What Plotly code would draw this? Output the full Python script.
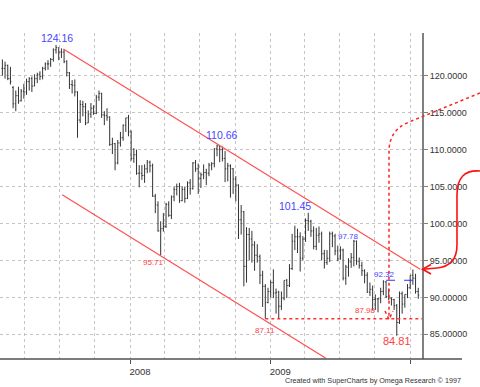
import pandas as pd
import plotly.graph_objects as go

# ---------------- data (weekly bars) ----------------
start_date = "2007-02-02"
open_ = [121.0,121.0,121.4,119.6,118.4,116.2,117.3,116.6,117.9,117.8,119.2,119.6,118.6,119.6,120.2,119.9,121.0,121.6,121.6,122.2,
         123.5,123.8,123.2,123.2,121.9,120.4,118.8,118.7,117.8,114.0,116.1,115.8,113.6,114.8,115.6,114.9,117.1,117.6,114.7,114.6,
         114.4,110.7,110.8,108.2,110.9,111.6,113.3,114.3,112.4,108.8,109.3,106.8,106.8,106.5,107.4,108.3,107.8,103.7,102.5,99.0,
         99.3,99.6,102.6,101.1,103.6,104.6,105.0,103.1,104.6,103.4,105.5,104.7,108.2,107.4,106.1,106.6,106.9,106.8,107.9,108.1,
         110.1,110.5,110.0,108.8,107.4,107.8,107.4,106.0,105.2,100.5,101.6,94.2,98.5,97.9,97.1,95.7,95.5,93.0,91.5,89.3,
         90.8,92.0,90.6,90.7,88.8,89.9,92.3,91.6,93.9,97.6,98.2,98.2,95.3,97.9,100.4,100.3,99.0,96.9,98.4,98.6,
         95.9,94.7,95.3,98.6,98.3,96.3,95.2,96.4,92.6,94.1,94.8,95.4,97.6,94.9,94.3,93.6,93.0,90.7,91.1,89.7,
         89.8,89.8,90.8,92.1,90.1,89.9,89.7,88.9,86.6,90.5,89.1,90.4,91.3,93.0,92.6,90.8]
high = [122.2,121.9,121.5,121.2,118.6,118.0,118.5,118.2,118.9,119.6,119.8,119.9,120.2,120.4,120.6,121.2,121.8,122.1,122.4,123.7,
        124.16,123.8,123.7,123.6,122.1,120.5,119.4,119.5,117.9,116.7,116.6,116.3,115.3,116.3,116.0,117.4,118.0,117.7,115.2,115.6,
        114.5,111.6,110.9,111.3,112.4,113.4,114.3,114.7,112.6,110.2,110.0,107.9,107.9,108.0,108.6,108.5,108.1,104.0,103.0,100.3,
        101.4,102.8,103.0,103.8,105.0,105.4,105.5,105.0,105.0,105.7,106.0,108.3,108.6,108.1,106.9,108.0,107.4,108.2,108.3,110.2,
        110.66,110.5,110.4,109.8,108.2,108.0,107.5,106.4,105.3,102.5,101.7,99.5,99.4,99.0,97.6,97.2,95.8,93.6,91.8,91.3,
        92.3,93.8,91.2,90.9,90.8,92.3,92.5,94.5,98.6,99.7,99.3,98.8,98.3,100.7,101.45,100.5,99.6,99.4,99.6,98.9,
        96.4,96.4,98.9,98.9,98.6,97.0,96.9,96.6,94.4,95.3,96.0,97.78,97.7,95.4,94.8,93.8,93.4,92.0,91.6,90.4,
        89.9,91.3,92.32,92.2,91.2,90.0,89.8,89.1,90.8,90.8,90.4,91.8,93.0,93.77,93.2,91.3]
low = [120.0,119.6,119.4,118.8,115.6,115.2,116.2,116.5,116.9,117.4,118.0,117.8,118.6,119.0,119.4,119.5,120.7,120.8,121.2,121.9,
       123.0,122.1,122.4,121.7,119.9,118.2,117.6,117.2,111.6,113.6,114.5,113.3,113.6,114.3,114.7,114.8,116.6,114.3,113.3,113.9,
       110.5,109.4,107.2,108.0,110.4,111.2,112.4,111.8,108.5,108.2,106.6,104.9,105.9,105.5,106.8,106.9,103.6,101.4,98.9,95.71,
       98.9,99.4,100.9,100.6,103.0,103.8,102.8,103.0,102.8,103.3,103.9,104.6,107.0,104.0,104.8,106.0,105.2,106.4,107.2,107.6,
       109.1,108.3,108.4,105.6,105.7,103.5,104.0,103.0,97.9,98.5,91.5,92.0,95.0,94.7,93.6,94.7,91.8,88.7,87.11,89.2,
       90.0,89.9,87.8,87.11,88.3,89.6,89.9,91.4,93.7,96.4,96.0,93.5,95.0,97.5,99.0,98.2,96.5,96.4,97.4,95.0,
       93.9,94.4,94.8,96.8,95.7,94.9,95.1,92.3,91.7,92.8,94.0,94.2,94.4,93.9,92.9,91.9,90.6,90.2,88.3,88.3,
       87.98,89.2,90.3,89.9,89.6,88.9,88.3,84.81,86.4,87.8,88.6,89.9,91.1,91.7,90.5,89.8]
close = [121.0,121.4,119.6,119.2,116.2,117.3,116.6,117.9,117.8,119.2,119.6,118.6,119.6,120.2,119.9,121.0,121.6,121.6,122.2,123.5,
         123.8,123.2,123.2,121.9,120.4,118.8,118.7,117.8,114.0,116.1,115.8,113.6,114.8,115.6,114.9,117.1,117.6,114.7,114.6,114.4,
         110.7,110.8,108.2,110.9,111.6,113.3,114.3,112.4,108.8,109.3,106.8,106.8,106.5,107.4,108.3,107.8,103.7,102.5,99.0,99.3,
         99.6,102.6,101.1,103.6,104.6,105.0,103.1,104.6,103.4,105.5,104.7,108.2,107.4,106.1,106.6,106.9,106.8,107.9,108.1,110.1,
         110.5,110.0,108.8,107.4,107.8,107.4,106.0,105.2,100.5,101.6,94.2,98.5,97.9,97.1,95.7,95.5,93.0,91.5,89.3,90.8,
         92.0,90.6,90.7,88.8,89.9,92.3,91.6,93.9,97.6,98.2,98.2,95.3,97.9,100.4,100.3,99.0,96.9,98.4,98.6,95.9,
         94.7,95.3,98.6,98.3,96.3,95.2,96.4,92.6,94.1,94.8,95.4,97.6,94.9,94.3,93.6,93.0,90.7,91.1,89.7,89.8,
         89.8,90.8,92.1,90.1,89.9,89.7,88.9,86.6,90.5,89.1,90.4,91.3,93.0,92.6,90.8,90.3]

dates = pd.date_range(start_date, periods=len(close), freq="7D")

# annotated extremes: (text, bar index, value)
label_text = ["124.16", "110.66", "95.71", "101.45", "97.78", "92.32", "87.98", "87.11", "84.81"]
label_bar = [20, 80, 59, 114, 131, 142, 140, 98, 147]
label_value = [124.16, 110.66, 95.71, 101.45, 97.78, 92.32, 87.98, 87.11, 84.81]

# trend channel (date, price) endpoints
upper_channel = [("2007-07-11", 123.6), ("2010-01-27", 93.8)]
lower_channel = [("2007-07-08", 103.9), ("2009-05-26", 81.75)]
support_level = 87.11
support_from = "2008-12-19"
resist_level = 92.32
resist_from = "2009-10-30"

y_ticks = [85, 90, 95, 100, 105, 110, 115, 120]
y_ticktext = ["85.00000", "90.00000", "95.00000", "100.0000", "105.0000", "110.0000", "115.0000", "120.0000"]
x_ticks = ["2008-01-01", "2009-01-01", "2010-01-01"]
x_ticktext = ["2008", "2009", ""]

# ---------------- styling ----------------
FONT = "Liberation Sans, Arial, sans-serif"
X_RANGE = ["2007-01-26 19:00", "2010-01-31 19:00"]
Y_RANGE = [81.66, 125.78]
BLUE = "#4646ff"
RED = "#ff4040"
label_style = {
    "124.16": (BLUE, 10.5, 0.6, 7.3),
    "110.66": (BLUE, 10.5, 4.7, 9.7),
    "95.71": (RED, 8, -6.9, -7.5),
    "101.45": (BLUE, 10.5, -13.2, 7.1),
    "97.78": (BLUE, 8, -5.2, 3.2),
    "92.32": (BLUE, 8, 0.9, 6.2),
    "87.98": (RED, 8, -13.0, 1.6),
    "87.11": (RED, 8, -0.3, -12.0),
    "84.81": (RED, 11, 0.0, -5.6),
}

# plot area in pixels (for decorations outside the axes)
PL, PR, PT, PB = 0, 422, 33, 359


def pp(px, py):
    return f"{(px - PL) / (PR - PL):.4f},{(PB - py) / (PB - PT):.4f}"


fig = go.Figure()
fig.add_trace(go.Ohlc(
    x=dates, open=open_, high=high, low=low, close=close,
    increasing=dict(line=dict(color="#333333", width=1)),
    decreasing=dict(line=dict(color="#333333", width=1)),
    tickwidth=0.35, showlegend=False, hoverinfo="skip",
))

shapes = []
# channel lines
for ch in (upper_channel, lower_channel):
    shapes.append(dict(type="line", xref="x", yref="y",
                       x0=ch[0][0], y0=ch[0][1], x1=ch[1][0], y1=ch[1][1],
                       line=dict(color="#ff5050", width=1.2)))
# support / resistance
shapes.append(dict(type="line", xref="x", yref="y", x0=support_from, x1=X_RANGE[1],
                   y0=support_level, y1=support_level,
                   line=dict(color="#ff3030", width=1.3, dash="dot")))
shapes.append(dict(type="line", xref="x", yref="y", x0=resist_from, x1=X_RANGE[1],
                   y0=resist_level, y1=resist_level,
                   line=dict(color="#3030ff", width=1.2, dash="dash")))

# dotted red projection path from the right edge down to support
dot_path = (f"M {pp(480, 93)} L {pp(408, 122.5)} Q {pp(390, 130)} {pp(389, 150)} "
            f"L {pp(389, 318)}")
shapes.append(dict(type="path", xref="paper", yref="paper", path=dot_path,
                   line=dict(color="#ff2020", width=1.5, dash="dot")))
shapes.append(dict(type="path", xref="paper", yref="paper",
                   path=f"M {pp(385, 311)} L {pp(389, 319.5)} L {pp(393, 311)}",
                   line=dict(color="#ff2020", width=1.5, dash="dot")))
# solid red curved arrow
arrow_path = (f"M {pp(480, 171)} Q {pp(457, 169)} {pp(457, 195)} L {pp(457, 245)} "
              f"Q {pp(457, 266)} {pp(437, 268)} L {pp(423, 269.3)}")
shapes.append(dict(type="path", xref="paper", yref="paper", path=arrow_path,
                   line=dict(color="#ff1010", width=1.6)))
shapes.append(dict(type="path", xref="paper", yref="paper",
                   path=f"M {pp(431, 264.5)} L {pp(422.5, 269.3)} L {pp(431, 274)}",
                   line=dict(color="#ff1010", width=1.6)))
# bottom axis line extending under price labels
shapes.append(dict(type="line", xref="paper", yref="paper", x0=0, x1=462 / 422, y0=0, y1=0,
                   line=dict(color="#505050", width=1.5)))

annotations = []
for t, bi, v in zip(label_text, label_bar, label_value):
    col, size, xs, ys = label_style[t]
    annotations.append(dict(x=dates[bi], y=v, xref="x", yref="y", text=t, showarrow=False,
                            font=dict(family=FONT, size=size, color=col),
                            xanchor="center", yanchor="middle", xshift=xs, yshift=ys))
annotations.append(dict(x=463 / 422, y=(PB - 380.5) / (PB - PT), xref="paper", yref="paper",
                        text="Created with SuperCharts by Omega Research © 1997", showarrow=False,
                        xanchor="right", yanchor="middle",
                        font=dict(family=FONT, size=7.2, color="#333333")))

fig.update_layout(
    width=480, height=387,
    margin=dict(l=0, r=58, t=33, b=28, pad=0),
    paper_bgcolor="white", plot_bgcolor="white",
    font=dict(family=FONT, size=9, color="#333333"),
    shapes=shapes, annotations=annotations,
    xaxis=dict(
        type="date", range=X_RANGE, rangeslider=dict(visible=False),
        tickvals=x_ticks, ticktext=x_ticktext, ticks="outside", ticklen=4,
        tickcolor="#505050", ticklabelshift=10,
        showline=False, zeroline=False,
        showgrid=True, gridcolor="#c4c4c4", griddash="dot", gridwidth=1,
        minor=dict(dtick="M3", tick0="2007-01-01", showgrid=True, gridcolor="#c4c4c4",
                   griddash="dot", gridwidth=1, ticks=""),
        tickfont=dict(family=FONT, size=9.5, color="#333333"),
    ),
    yaxis=dict(
        side="right", range=Y_RANGE, tickvals=y_ticks, ticktext=y_ticktext,
        ticks="outside", ticklen=4, tickcolor="#808080",
        showline=True, linecolor="#808080", linewidth=2,
        zeroline=False, showgrid=True, gridcolor="#c4c4c4", griddash="dot", gridwidth=1,
        tickfont=dict(family=FONT, size=9, color="#333333"),
    ),
)

fig.write_html("out.html", config={"displayModeBar": False},
               post_script="document.body.style.margin='0px';")
